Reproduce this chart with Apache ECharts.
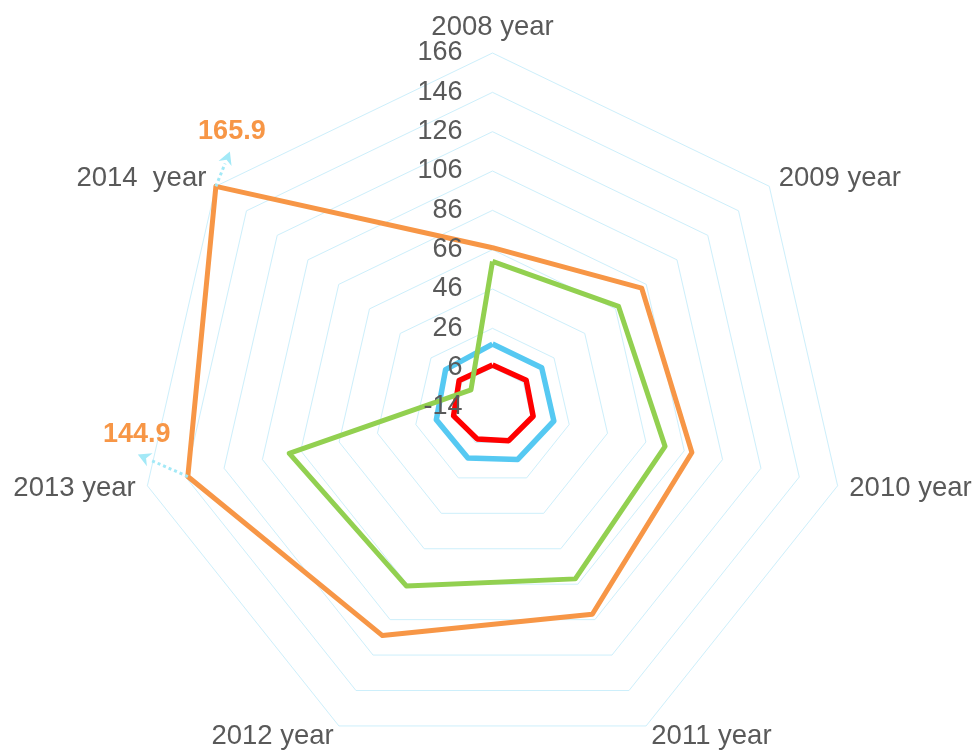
<!DOCTYPE html>
<html><head><meta charset="utf-8">
<script src="https://cdn.jsdelivr.net/npm/echarts@6/dist/echarts.min.js"></script>
<style>html,body{margin:0;padding:0;background:#fff}#c{width:978px;height:751px}</style>
</head><body><div id="c"></div>
<script>
// ---- data ----
const indicatorNames = ['2008 year', '2009 year', '2010 year', '2011 year', '2012 year', '2013 year', '2014  year'];
const axisMin = -14;
const axisMax = 166;
const axisSplits = 9;
const orangeValues = [67, 83, 90, 103, 115, 144.9, 165.9];
const greenValues = [60, 68, 76, 83, 87, 92, 0];
const blueValues = [18, 18, 18, 15.6, 14.8, 15.3, 16.5];
const redValues = [7.4, 7.9, 7.2, 5, 4, 6.3, 7.7];
const annotatedIndices = [6, 5];

// ---- styles ----
const FONT = 'Liberation Sans, Arial, sans-serif';
const TEXT = '#595959';
const annotationOffsets = { 6: { tip: [14, -35], label: [16, -55] }, 5: { tip: [-50, -22], label: [-51, -42] } };

// ECharts lays indicators out counter-clockwise; the reference runs clockwise,
// so keep the first indicator and reverse the rest.
const N = indicatorNames.length;
const order = indicatorNames.map((_, k) => (N - k) % N); // display position k -> data index
const reorder = arr => order.map(i => arr[i]);
const posOf = i => (N - i) % N; // data index -> display position

const baseRadar = {
  center: [492.5, 407],
  radius: 354,
  startAngle: 90,
  splitNumber: axisSplits,
  shape: 'polygon',
  nameGap: 12,
  axisLine: { show: false },
  axisTick: { show: false },
  splitArea: { show: false }
};

const chart = echarts.init(document.getElementById('c'), null, { renderer: 'canvas' });
const option = {
  backgroundColor: '#ffffff',
  animation: false,
  radar: [
    Object.assign({}, baseRadar, {
      z: 0,
      axisName: { color: TEXT, fontSize: 27.5, fontFamily: FONT },
      indicator: reorder(indicatorNames).map(n => ({ name: n, min: axisMin, max: axisMax })),
      axisLabel: { show: false },
      splitLine: { lineStyle: { color: '#cdeffb', width: 1 } }
    }),
    Object.assign({}, baseRadar, {
      z: 10,
      axisName: { show: false },
      indicator: reorder(indicatorNames).map((n, k) => k === 0
        ? { name: n, min: axisMin, max: axisMax }
        : { name: n, min: axisMin, max: axisMax, axisLabel: { show: false } }),
      axisLabel: { show: true, color: TEXT, fontSize: 27, fontFamily: FONT, margin: 30 },
      splitLine: { show: false }
    })
  ],
  series: [{
    type: 'radar',
    radarIndex: 0,
    symbol: 'none',
    silent: true,
    data: [
      { value: reorder(blueValues), lineStyle: { color: '#56c9f2', width: 5.5 } },
      { value: reorder(redValues), lineStyle: { color: '#ff0000', width: 5.5 } },
      { value: reorder(greenValues), lineStyle: { color: '#92d050', width: 5 } },
      { value: reorder(orangeValues), lineStyle: { color: '#f79646', width: 5 } }
    ]
  }]
};
chart.setOption(option);

function pointOf(value, idx) {
  const k = posOf(idx);
  try {
    const cs = chart.getModel().getComponent('radar', 0).coordinateSystem;
    return cs.dataToPoint(value, k);
  } catch (e) {
    const ang = (90 + k * 360 / N) * Math.PI / 180;
    const r = (value - axisMin) / (axisMax - axisMin) * 354;
    return [492.5 + r * Math.cos(ang), 407 - r * Math.sin(ang)];
  }
}

const graphics = [];
annotatedIndices.forEach(idx => {
  const v = orangeValues[idx];
  const p = pointOf(v, idx);
  const off = annotationOffsets[idx];
  const tip = [p[0] + off.tip[0], p[1] + off.tip[1]];
  const dx = tip[0] - p[0], dy = tip[1] - p[1];
  const len = Math.sqrt(dx * dx + dy * dy);
  const ux = dx / len, uy = dy / len;
  const hl = 13, hw = 7;
  const base = [tip[0] - ux * hl, tip[1] - uy * hl];
  graphics.push({
    type: 'line', silent: true,
    shape: { x1: p[0], y1: p[1], x2: base[0], y2: base[1] },
    style: { stroke: '#a3e9f7', lineWidth: 3, lineDash: [3, 3] }, z: 10
  });
  graphics.push({
    type: 'polygon', silent: true,
    shape: { points: [tip, [base[0] - uy * hw, base[1] + ux * hw], [base[0] + ux * 4, base[1] + uy * 4], [base[0] + uy * hw, base[1] - ux * hw]] },
    style: { fill: '#a3e9f7' }, z: 10
  });
  graphics.push({
    type: 'text', silent: true,
    x: p[0] + off.label[0], y: p[1] + off.label[1],
    style: { text: String(v), fill: '#f79646', font: 'bold 27px ' + FONT, textAlign: 'center', textVerticalAlign: 'middle' }, z: 10
  });
});
chart.setOption({ graphic: graphics });
</script>
</body></html>
